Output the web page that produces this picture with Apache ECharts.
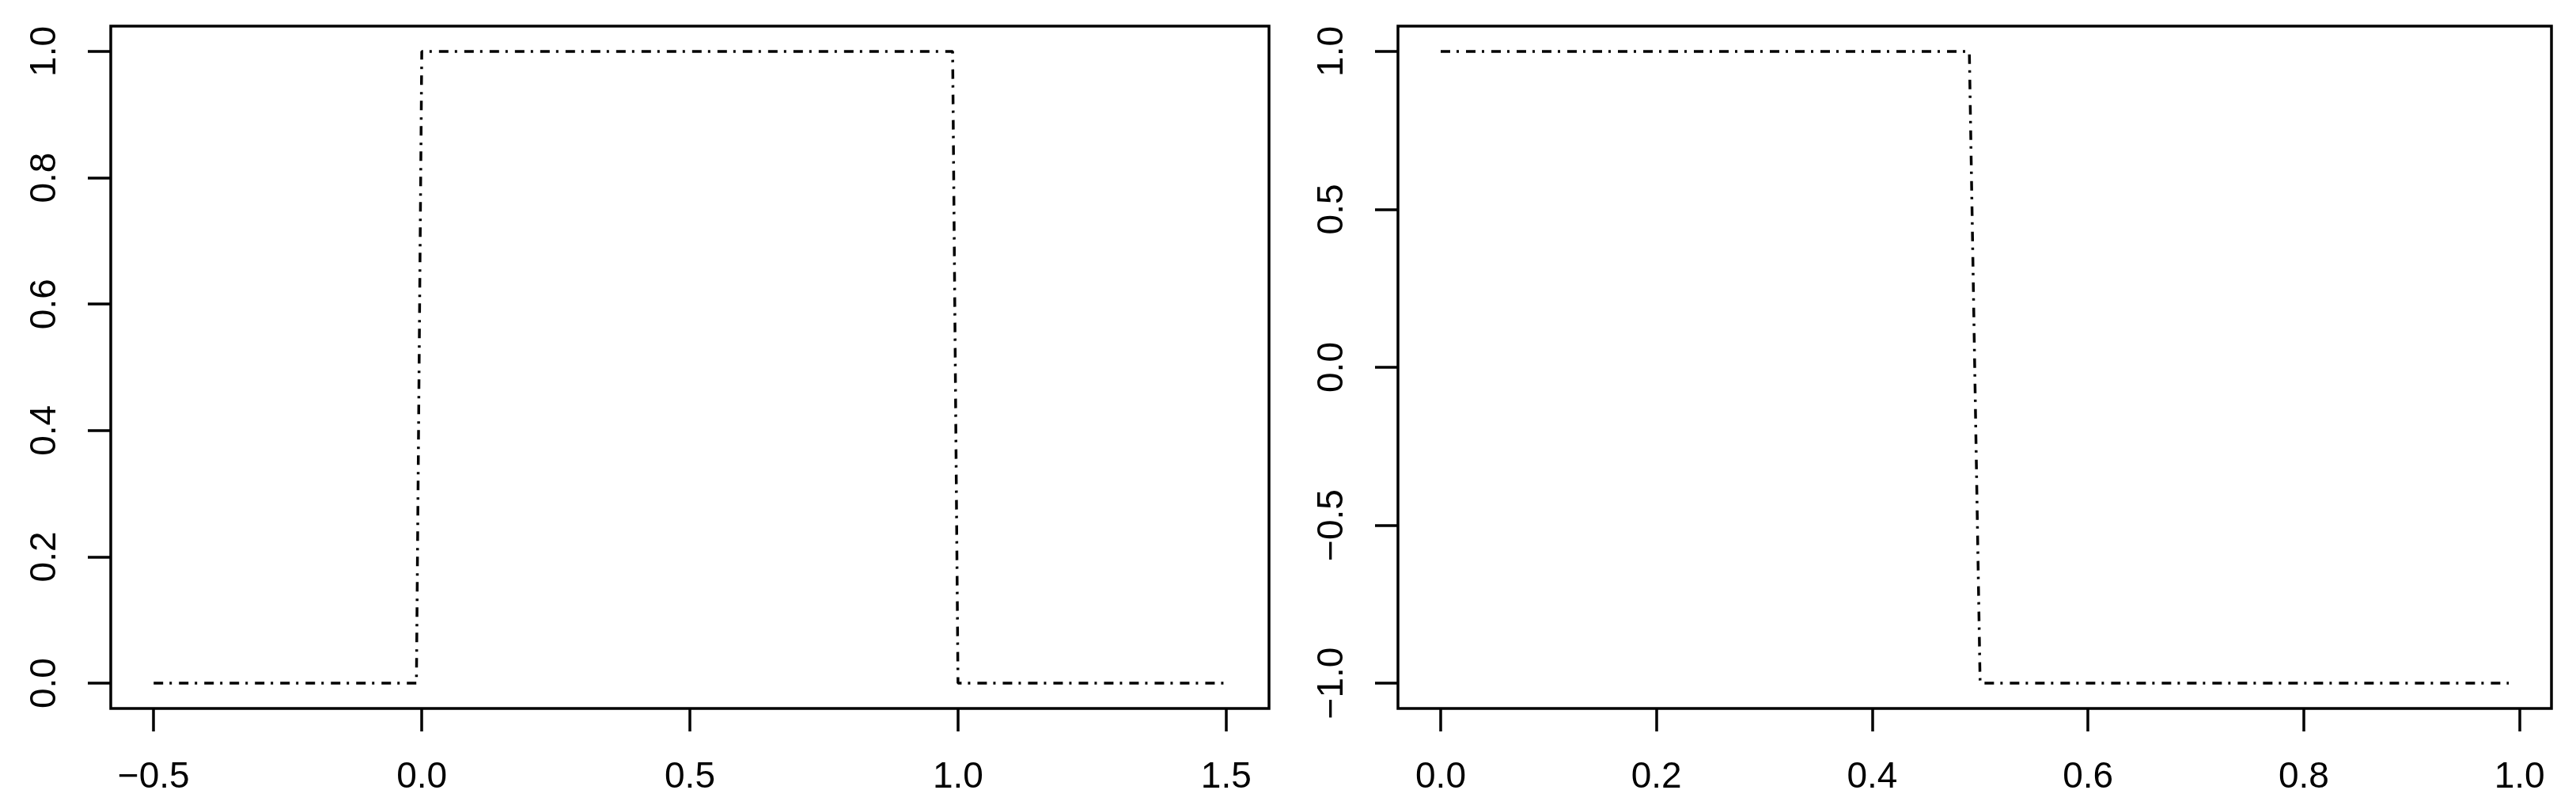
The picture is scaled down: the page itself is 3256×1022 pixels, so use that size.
<!DOCTYPE html>
<html>
<head>
<meta charset="utf-8">
<script src="https://cdn.jsdelivr.net/npm/echarts@6/dist/echarts.min.js"></script>
<style>
  html, body { margin: 0; padding: 0; background: #fff; }
  #chart { width: 3256px; height: 1022px; }
</style>
</head>
<body>
<div id="chart"></div>
<script>
// left panel: rectangle pulse
const rectX = [-0.5, -0.01, 0, 0.99, 1.0, 1.5];
const rectY = [0, 0, 1, 1, 0, 0];
// right panel: square step
const stepX = [0, 0.49, 0.5, 0.99];
const stepY = [1, 1, -1, -1];

const leftXTicks = [-0.5, 0, 0.5, 1, 1.5];
const leftYTicks = [0, 0.2, 0.4, 0.6, 0.8, 1];
const rightXTicks = [0, 0.2, 0.4, 0.6, 0.8, 1];
const rightYTicks = [-1, -0.5, 0, 0.5, 1];

const FONT = '"Liberation Sans", Arial, sans-serif';
const LW = 3.5;

function fmt(v) {
  return v.toFixed(1).replace('-', '\u2212');
}

function pairs(xs, ys) {
  return xs.map(function(x, i) { return [x, ys[i]]; });
}

function xAxisFor(idx, min, max, ticks) {
  return {
    type: 'value', gridIndex: idx, min: min, max: max,
    splitLine: { show: false },
    axisLine: { show: false, onZero: false },
    axisTick: { show: true, inside: false, length: 29, customValues: ticks,
      lineStyle: { color: '#000', width: LW } },
    axisLabel: { show: true, customValues: ticks, margin: 87,
      color: '#000', fontSize: 46, fontFamily: FONT,
      verticalAlign: 'middle', formatter: fmt }
  };
}

function yAxisFor(idx, min, max, ticks) {
  return {
    type: 'value', gridIndex: idx, min: min, max: max,
    splitLine: { show: false },
    axisLine: { show: false, onZero: false },
    axisTick: { show: true, inside: false, length: 29, customValues: ticks,
      lineStyle: { color: '#000', width: LW } },
    axisLabel: { show: true, customValues: ticks, margin: 83, rotate: 90,
      align: 'center', verticalAlign: 'middle',
      color: '#000', fontSize: 46, fontFamily: FONT, formatter: fmt }
  };
}

const lineStyle = { color: '#000', width: LW, type: [12, 8, 3, 9] };

const option = {
  animation: false,
  backgroundColor: '#fff',
  grid: [
    { left: 140, top: 33, width: 1464, height: 862, show: true,
      borderColor: '#000', borderWidth: LW, backgroundColor: 'transparent' },
    { left: 1767, top: 33, width: 1458, height: 862, show: true,
      borderColor: '#000', borderWidth: LW, backgroundColor: 'transparent' }
  ],
  xAxis: [
    xAxisFor(0, -0.58, 1.58, leftXTicks),
    xAxisFor(1, -0.0396, 1.0296, rightXTicks)
  ],
  yAxis: [
    yAxisFor(0, -0.04, 1.04, leftYTicks),
    yAxisFor(1, -1.08, 1.08, rightYTicks)
  ],
  series: [
    { type: 'line', xAxisIndex: 0, yAxisIndex: 0, showSymbol: false,
      data: pairs(rectX, rectY), lineStyle: lineStyle },
    { type: 'line', xAxisIndex: 1, yAxisIndex: 1, showSymbol: false,
      data: pairs(stepX, stepY), lineStyle: lineStyle }
  ]
};

const chart = echarts.init(document.getElementById('chart'));
chart.setOption(option);
</script>
</body>
</html>
